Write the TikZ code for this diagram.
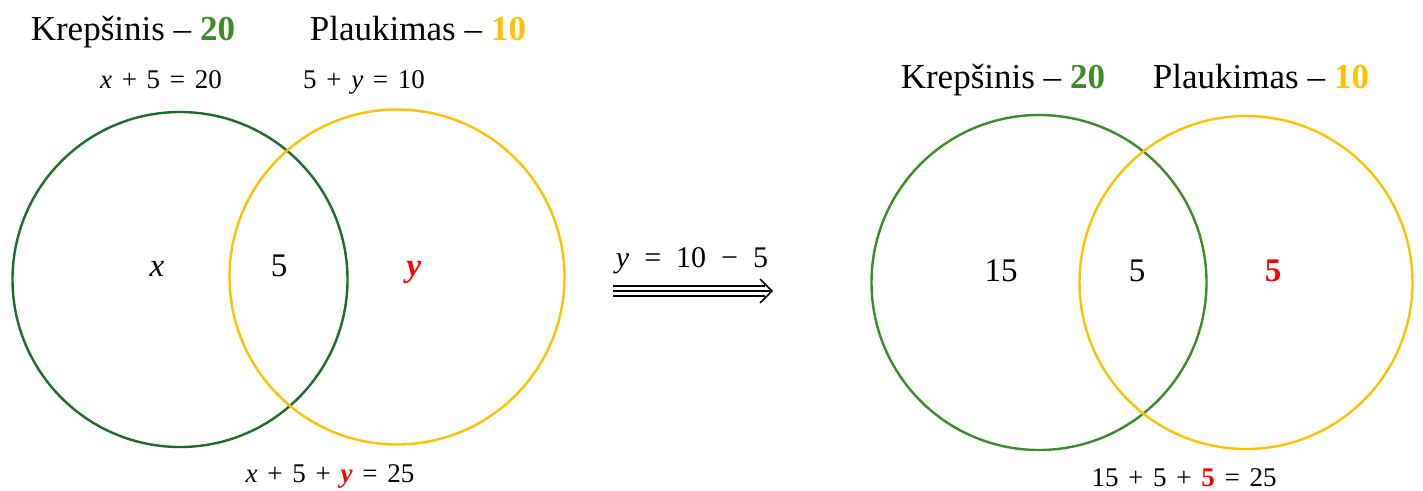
\documentclass[tikz,border=0pt]{standalone}
\usepackage{fontspec}
\setmainfont{Liberation Serif}
\definecolor{dgreen}{HTML}{1E6B2A}
\definecolor{mgreen}{HTML}{3D8A28}
\definecolor{gold}{HTML}{FFC000}
\definecolor{myred}{HTML}{FF0000}
\newcommand{\qs}{\hspace{0.36em}}
\begin{document}
\begin{tikzpicture}[x=1pt,y=-1pt,
  venn/.style={circle, draw, line width=2.4pt, minimum size=335pt, inner sep=0pt},
  head/.style={anchor=base, inner sep=0pt, font=\fontsize{35}{38}\selectfont},
  eqn/.style={anchor=base, inner sep=0pt, font=\fontsize{27}{30}\selectfont},
  lab/.style={anchor=base, inner sep=0pt, font=\fontsize{33}{36}\selectfont},
  arrline/.style={line width=1.6pt}]
\useasboundingbox (0,0) rectangle (1423,490);
% left diagram
\node[venn, draw=dgreen] (lg) at (180,279.5) {};
\node[venn, draw=gold] (ly) at (397,277) {};
\node[head] (lh1) at (133,40) {Krepšinis – \textbf{\textcolor{mgreen}{20}}};
\node[head] (lh2) at (418,40) {Plaukimas – \textbf{\textcolor{gold}{10}}};
\node[eqn] (le1) at (161,88) {\textit{x}\qs+\qs5\qs=\qs20};
\node[eqn] (le2) at (364,88) {5\qs+\qs\textit{y}\qs=\qs10};
\node[lab] (lx) at (157,276) {\textit{x}};
\node[lab] (l5) at (279,276) {5};
\node[lab] (ly2) at (414,276) {\textcolor{myred}{\textbf{\textit{y}}}};
\node[eqn] (lb) at (330,482) {\textit{x}\qs+\qs5\qs+\qs\textcolor{myred}{\textbf{\textit{y}}}\qs=\qs25};
% arrow
\node[anchor=base, inner sep=0pt, font=\fontsize{30}{33}\selectfont] (ar) at (692,267) {\textit{y}\hspace{0.5em}=\hspace{0.5em}10\hspace{0.5em}−\hspace{0.5em}5};
\coordinate (as) at (613,291);
\coordinate (ae) at (772,291);
\draw[arrline] (as) -- ([xshift=-2pt]ae);
\draw[arrline] ([yshift=5pt]as) -- ([xshift=-7pt,yshift=5pt]ae);
\draw[arrline] ([yshift=-5pt]as) -- ([xshift=-7pt,yshift=-5pt]ae);
\draw[arrline, line join=miter] ([xshift=-12pt,yshift=12pt]ae) -- (ae) -- ([xshift=-12pt,yshift=-12pt]ae);
% right diagram
\node[venn, draw=mgreen] (rg) at (1039,282.5) {};
\node[venn, draw=gold, minimum size=333pt] (ry) at (1246,282.5) {};
\node[head] (rh1) at (1003,88) {Krepšinis – \textbf{\textcolor{mgreen}{20}}};
\node[head] (rh2) at (1261,88) {Plaukimas – \textbf{\textcolor{gold}{10}}};
\node[lab] (r15) at (1001,281) {15};
\node[lab] (r5) at (1137,281) {5};
\node[lab] (r5b) at (1273,281) {\textcolor{myred}{\textbf{5}}};
\node[eqn] (rb) at (1184,486) {15\qs+\qs5\qs+\qs\textcolor{myred}{\textbf{5}}\qs=\qs25};
\end{tikzpicture}
\end{document}
